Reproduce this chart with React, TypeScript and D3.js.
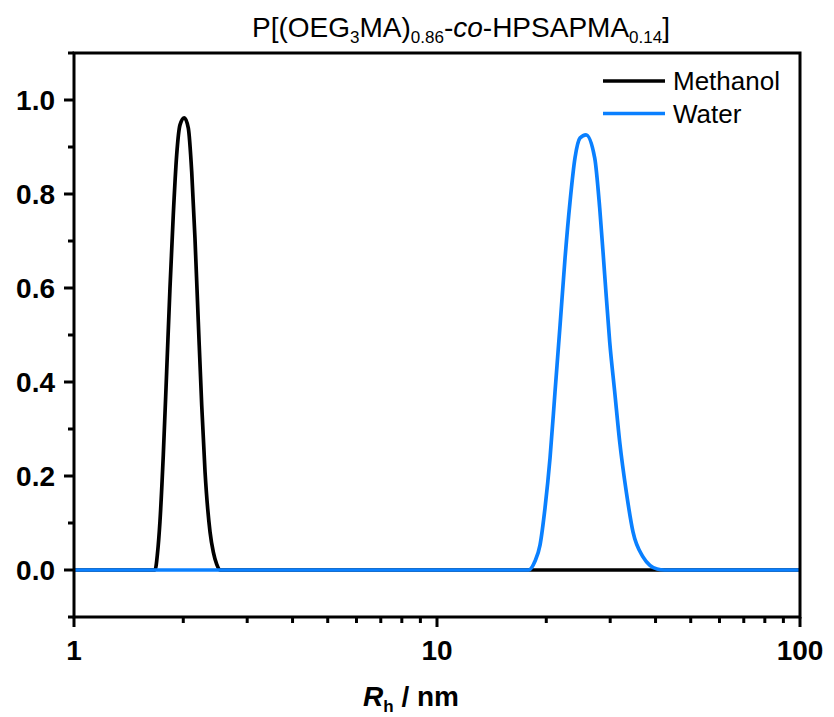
import React from "react";
import * as d3 from "d3";

const methanolR = [1, 1.672, 1.698, 1.725, 1.762, 1.8, 1.838, 1.877, 1.918, 1.959, 2.013, 2.065, 2.11, 2.154, 2.2, 2.248, 2.296, 2.37, 2.42, 2.473, 2.525, 100];
const methanolY = [0, 0, 0.035, 0.103, 0.245, 0.422, 0.599, 0.755, 0.883, 0.947, 0.962, 0.94, 0.847, 0.706, 0.528, 0.351, 0.209, 0.081, 0.038, 0.012, 0, 0];

const waterR = [1, 17.9, 18.6, 19.22, 19.84, 20.48, 21.14, 21.83, 22.53, 23.25, 24.0, 24.77, 25.73, 27.19, 28.07, 28.97, 29.91, 30.87, 31.87, 33.23, 34.67, 36.94, 38.6, 40.4, 42.3, 100];
const waterY = [0, 0, 0.018, 0.053, 0.132, 0.238, 0.379, 0.521, 0.664, 0.783, 0.877, 0.919, 0.926, 0.877, 0.77, 0.628, 0.485, 0.379, 0.272, 0.166, 0.081, 0.028, 0.01, 0.002, 0, 0];

const xMajorTicks = [1, 10, 100];
const xMinorTicks = [2, 3, 4, 5, 6, 7, 8, 9, 20, 30, 40, 50, 60, 70, 80, 90];
const yMajorTicks = [0, 0.2, 0.4, 0.6, 0.8, 1.0];
const yMinorTicks = [-0.1, 0.1, 0.3, 0.5, 0.7, 0.9, 1.1];

const seriesNames = ["Methanol", "Water"];
const seriesColors = ["#000000", "#0a80ff"];

const W = 834, H = 717;
const L = 74, R = 800, T = 53, B = 617;
const FONT = "'Liberation Sans', Arial, Helvetica, sans-serif";

export default function App() {
  const x = d3.scaleLog().domain([1, 100]).range([L, R]);
  const y = d3.scaleLinear().domain([-0.1, 1.1]).range([B, T]);
  const line = d3
    .line<[number, number]>()
    .x((d) => x(d[0]))
    .y((d) => y(d[1]))
    .curve(d3.curveMonotoneX);

  const mData: [number, number][] = methanolR.map((r, i) => [r, methanolY[i]]);
  const wData: [number, number][] = waterR.map((r, i) => [r, waterY[i]]);

  return (
    <svg width={W} height={H} style={{ position: "absolute", left: 0, top: 0, background: "#fff" }}>
      <rect x={0} y={0} width={W} height={H} fill="#fff" />
      <text x={252} y={37} fontFamily={FONT} fontSize={28} fill="#000">
        P[(OEG<tspan fontSize={17} dy={6}>3</tspan>
        <tspan dy={-6}>MA)</tspan>
        <tspan fontSize={17} dy={6}>0.86</tspan>
        <tspan dy={-6}>-</tspan>
        <tspan fontStyle="italic">co</tspan>
        <tspan>-HPSAPMA</tspan>
        <tspan fontSize={17} dy={6}>0.14</tspan>
        <tspan dy={-6}>]</tspan>
      </text>

      <path d={line(mData) || ""} fill="none" stroke={seriesColors[0]} strokeWidth={3.7} strokeLinejoin="round" />
      <path d={line(wData) || ""} fill="none" stroke={seriesColors[1]} strokeWidth={3.7} strokeLinejoin="round" />

      <rect x={L} y={T} width={R - L} height={B - T} fill="none" stroke="#000" strokeWidth={3} />

      {yMajorTicks.map((v) => (
        <g key={"ym" + v}>
          <line x1={L - 10} x2={L} y1={y(v)} y2={y(v)} stroke="#000" strokeWidth={3} />
          <text x={55} y={y(v)} dy="0.36em" textAnchor="end" fontFamily={FONT} fontWeight="bold" fontSize={28}>
            {v.toFixed(1)}
          </text>
        </g>
      ))}
      {yMinorTicks.map((v) => (
        <line key={"yn" + v} x1={L - 6} x2={L} y1={y(v)} y2={y(v)} stroke="#000" strokeWidth={3} />
      ))}

      {xMajorTicks.map((v) => (
        <g key={"xm" + v}>
          <line x1={x(v)} x2={x(v)} y1={B} y2={B + 10} stroke="#000" strokeWidth={3} />
          <text x={x(v)} y={660} textAnchor="middle" fontFamily={FONT} fontWeight="bold" fontSize={28}>
            {v}
          </text>
        </g>
      ))}
      {xMinorTicks.map((v) => (
        <line key={"xn" + v} x1={x(v)} x2={x(v)} y1={B} y2={B + 6} stroke="#000" strokeWidth={3} />
      ))}

      <text x={363} y={706} fontFamily={FONT} fontWeight="bold" fontSize={28}>
        <tspan fontStyle="italic">R</tspan>
        <tspan fontSize={17} dy={6}>h</tspan>
        <tspan dy={-6}> / nm</tspan>
      </text>

      {seriesNames.map((n, i) => (
        <g key={n}>
          <line x1={603} x2={665} y1={81 + i * 32.5} y2={81 + i * 32.5} stroke={seriesColors[i]} strokeWidth={3.5} />
          <text x={673} y={81 + i * 32.5} dy="0.36em" fontFamily={FONT} fontSize={26}>
            {n}
          </text>
        </g>
      ))}
    </svg>
  );
}
